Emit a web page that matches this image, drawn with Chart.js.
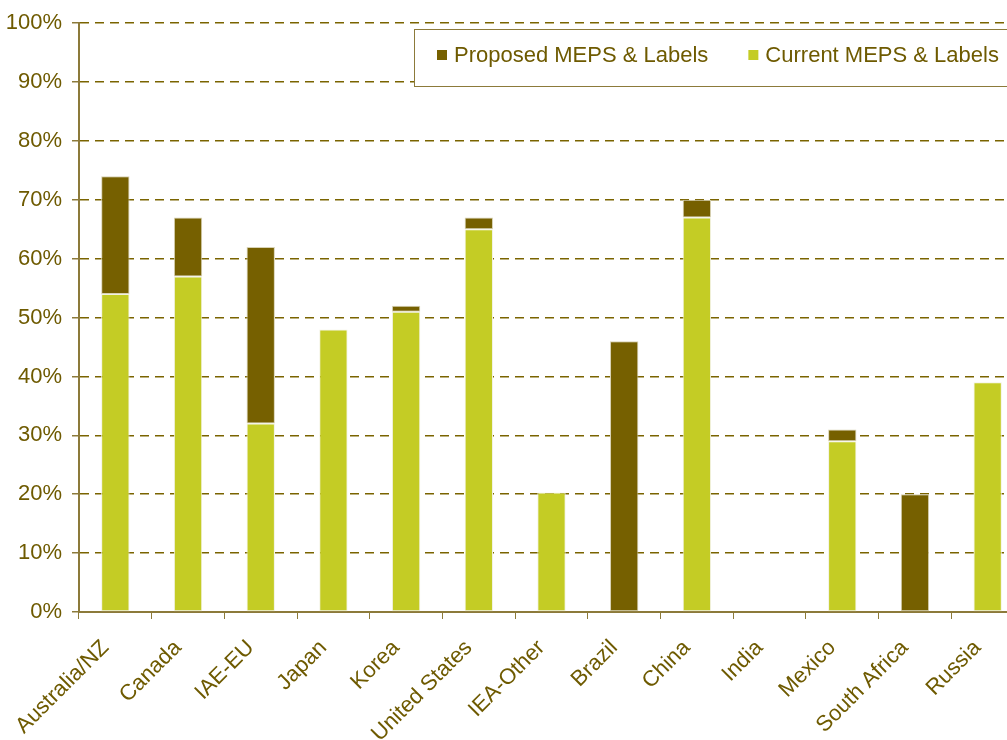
<!DOCTYPE html>
<html>
<head>
<meta charset="utf-8">
<script src="https://cdn.jsdelivr.net/npm/chart.js@4/dist/chart.umd.min.js"></script>
<style>
  html, body { margin: 0; padding: 0; overflow: hidden; background: #ffffff; }
  #wrap { width: 1007px; height: 740px; overflow: hidden; position: relative; }
  canvas { display: block; }
</style>
</head>
<body>
<div id="wrap"><canvas id="chart" width="1024" height="740"></canvas></div>
<script>
// Share of appliance energy use covered by MEPS & labelling programmes
const categories = ['Australia/NZ', 'Canada', 'IAE-EU', 'Japan', 'Korea', 'United States',
  'IEA-Other', 'Brazil', 'China', 'India', 'Mexico', 'South Africa', 'Russia'];
const currentMeps  = [54, 57, 32, 48, 51, 65, 20.3, 0, 67, 0, 29, 0, 39];
const proposedMeps = [20, 10, 30, 0, 1, 2, 0, 46, 3, 0, 2, 20, 0];
const yTicks = [0, 10, 20, 30, 40, 50, 60, 70, 80, 90, 100];

const OLIVE_DARK = '#766000';
const LIME = '#c4cc25';
const TEXT = '#6e5a00';
const GRID = '#7a6400';
const AXIS = '#8c7a3a';
const FONT = '"Liberation Sans", Arial, sans-serif';

// Boxed legend inside the plot, proposed first then current
const boxLegend = {
  id: 'boxLegend',
  afterDraw(chart) {
    const ctx = chart.ctx;
    const order = [1, 0];
    ctx.save();
    ctx.fillStyle = '#ffffff';
    ctx.fillRect(414, 29, 640, 57);
    ctx.strokeStyle = AXIS;
    ctx.lineWidth = 1;
    ctx.strokeRect(414.5, 29.5, 640, 57);
    ctx.font = '22px ' + FONT;
    ctx.textBaseline = 'middle';
    let x = 437;
    order.forEach(i => {
      const ds = chart.data.datasets[i];
      ctx.fillStyle = ds.backgroundColor;
      ctx.fillRect(x, 50, 10, 10);
      ctx.fillStyle = TEXT;
      ctx.fillText(ds.label, x + 17, 56);
      x += 17 + ctx.measureText(ds.label).width + 40;
    });
    ctx.restore();
  }
};

new Chart(document.getElementById('chart'), {
  type: 'bar',
  data: {
    labels: categories,
    datasets: [
      {
        label: 'Current MEPS & Labels',
        data: currentMeps,
        backgroundColor: LIME,
        borderColor: '#f2f2e2',
        borderWidth: c => (c.raw ? 1 : 0),
        borderSkipped: false
      },
      {
        label: 'Proposed MEPS & Labels',
        data: proposedMeps,
        backgroundColor: OLIVE_DARK,
        borderColor: '#d8d2b4',
        borderWidth: c => (c.raw ? 1 : 0),
        borderSkipped: false
      }
    ]
  },
  options: {
    responsive: false,
    animation: false,
    layout: { padding: { top: 20, right: 0, left: 0, bottom: 0 } },
    categoryPercentage: 1,
    barPercentage: 0.39,
    plugins: {
      legend: { display: false },
      tooltip: { enabled: false }
    },
    scales: {
      x: {
        stacked: true,
        afterFit: s => { s.height = 128; },
        grid: {
          offset: true,
          drawOnChartArea: false,
          drawTicks: true,
          tickLength: 7,
          color: AXIS
        },
        border: { display: true, color: AXIS, width: 2 },
        ticks: {
          color: TEXT,
          font: { family: FONT, size: 22 },
          minRotation: 45,
          maxRotation: 45,
          padding: 16,
          labelOffset: -10,
          autoSkip: false
        }
      },
      y: {
        stacked: true,
        min: 0,
        max: 100,
        afterFit: s => { s.width = 79; },
        afterBuildTicks: s => { s.ticks = yTicks.map(v => ({ value: v })); },
        grid: {
          color: GRID,
          lineWidth: 1.5,
          drawTicks: true,
          tickLength: 7,
          tickColor: AXIS,
          tickWidth: 1.5
        },
        border: { display: true, color: AXIS, width: 2, dash: [9, 6] },
        ticks: {
          color: TEXT,
          font: { family: FONT, size: 22 },
          padding: 10,
          callback: v => v + '%'
        }
      }
    }
  },
  plugins: [boxLegend]
});
</script>
</body>
</html>
